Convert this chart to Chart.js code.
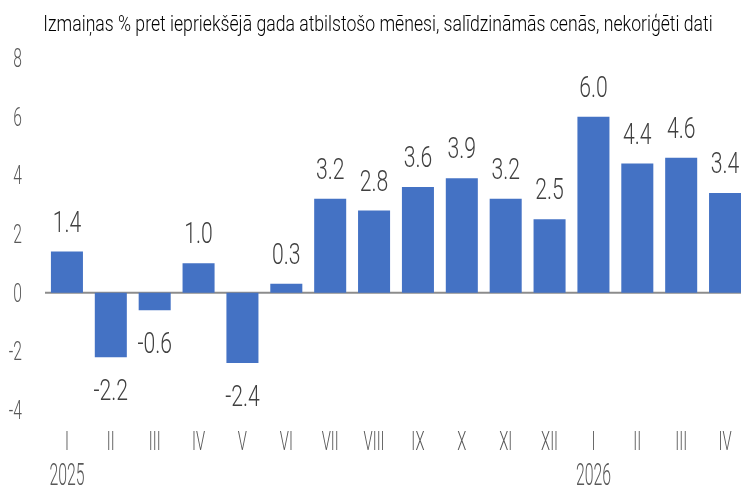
<!DOCTYPE html>
<html>
<head>
<meta charset="utf-8">
<script src="https://cdn.jsdelivr.net/npm/chart.js@4"></script>
<style>
  html, body { margin: 0; padding: 0; background: #fff; overflow: hidden; }
  #wrap { width: 748px; height: 490px; }
</style>
</head>
<body>
<div id="wrap"><canvas id="chart"></canvas></div>
<script>
const months = ['I', 'II', 'III', 'IV', 'V', 'VI', 'VII', 'VIII', 'IX', 'X', 'XI', 'XII', 'I', 'II', 'III', 'IV'];
const years = ['2025', '', '', '', '', '', '', '', '', '', '', '', '2026', '', '', ''];
const changes = [1.4, -2.2, -0.6, 1.0, -2.4, 0.3, 3.2, 2.8, 3.6, 3.9, 3.2, 2.5, 6.0, 4.4, 4.6, 3.4];
const yTicks = [-4, -2, 0, 2, 4, 6, 8];
const title = 'Izmaiņas % pret iepriekšējā gada atbilstošo mēnesi, salīdzināmās cenās, nekoriģēti dati';

const fontFamily = 'Roboto, "DejaVu Sans Condensed", sans-serif';
const gray = '#595959';

// the original uses a very narrow face, so squeeze the text horizontally
function inkWidth(ctx, text) {
  const m = ctx.measureText(text);
  return m.actualBoundingBoxLeft + m.actualBoundingBoxRight;
}

function squeeze(ctx, weight, size, sample, target) {
  ctx.font = weight + ' ' + size + 'px ' + fontFamily;
  return target / inkWidth(ctx, sample);
}

function drawText(ctx, text, x, y, weight, size, sx, align, color) {
  ctx.save();
  ctx.font = weight + ' ' + size + 'px ' + fontFamily;
  ctx.fillStyle = color;
  ctx.textAlign = align;
  ctx.textBaseline = 'alphabetic';
  ctx.translate(x, y);
  ctx.scale(sx, 1);
  ctx.fillText(text, 0, 0);
  ctx.restore();
}

const textLayer = {
  id: 'textLayer',
  beforeDatasetsDraw(chart) {
    // zero line
    const ctx = chart.ctx;
    const y0 = chart.scales.y.getPixelForValue(0);
    ctx.save();
    ctx.strokeStyle = '#8c8c8c';
    ctx.lineWidth = 2;
    ctx.beginPath();
    ctx.moveTo(chart.chartArea.left, y0);
    ctx.lineTo(chart.chartArea.right, y0);
    ctx.stroke();
    ctx.restore();
  },
  afterDatasetsDraw(chart) {
    const ctx = chart.ctx;
    const xs = chart.scales.x;
    const ys = chart.scales.y;

    // title
    const tSize = 22.5;
    drawText(ctx, title, 378, 31, 300, tSize, squeeze(ctx, 300, tSize, title, 667), 'center', '#000');

    // y tick labels
    const ySize = 25;
    const ySx = squeeze(ctx, 300, ySize, '8', 7.5);
    yTicks.forEach(v => {
      drawText(ctx, String(v), 22, ys.getPixelForValue(v) + 9, 300, ySize, ySx, 'right', gray);
    });

    // month and year labels
    const mSize = 25;
    const mSx = squeeze(ctx, 300, mSize, 'VIII', 20);
    const ySize2 = 31;
    const yrSx = squeeze(ctx, 300, ySize2, '2025', 34);
    months.forEach((m, i) => {
      const x = xs.getPixelForValue(i);
      drawText(ctx, m, x, 450, 300, mSize, mSx, 'center', gray);
      if (years[i]) drawText(ctx, years[i], x, 485, 300, ySize2, yrSx, 'center', gray);
    });

    // value labels
    const vSize = 29;
    const vSx = squeeze(ctx, 300, vSize, '6.0', 27);
    chart.getDatasetMeta(0).data.forEach((bar, i) => {
      const v = changes[i];
      const y = v >= 0 ? bar.y - 20 : bar.y + 43;
      drawText(ctx, v.toFixed(1), bar.x, y, 300, vSize, vSx, 'center', '#404040');
    });
  }
};

new Chart(document.getElementById('chart'), {
  type: 'bar',
  data: {
    labels: months,
    datasets: [{
      data: changes,
      backgroundColor: '#4472C4',
      borderWidth: 0,
      categoryPercentage: 1,
      barPercentage: 0.73
    }]
  },
  options: {
    responsive: true,
    maintainAspectRatio: false,
    animation: false,
    layout: { padding: { top: 58, left: 45, right: 1, bottom: 80 } },
    plugins: {
      legend: { display: false },
      tooltip: { enabled: false },
      title: { display: false }
    },
    scales: {
      x: { display: false },
      y: { display: false, min: -4, max: 8 }
    }
  },
  plugins: [textLayer]
});
</script>
</body>
</html>
